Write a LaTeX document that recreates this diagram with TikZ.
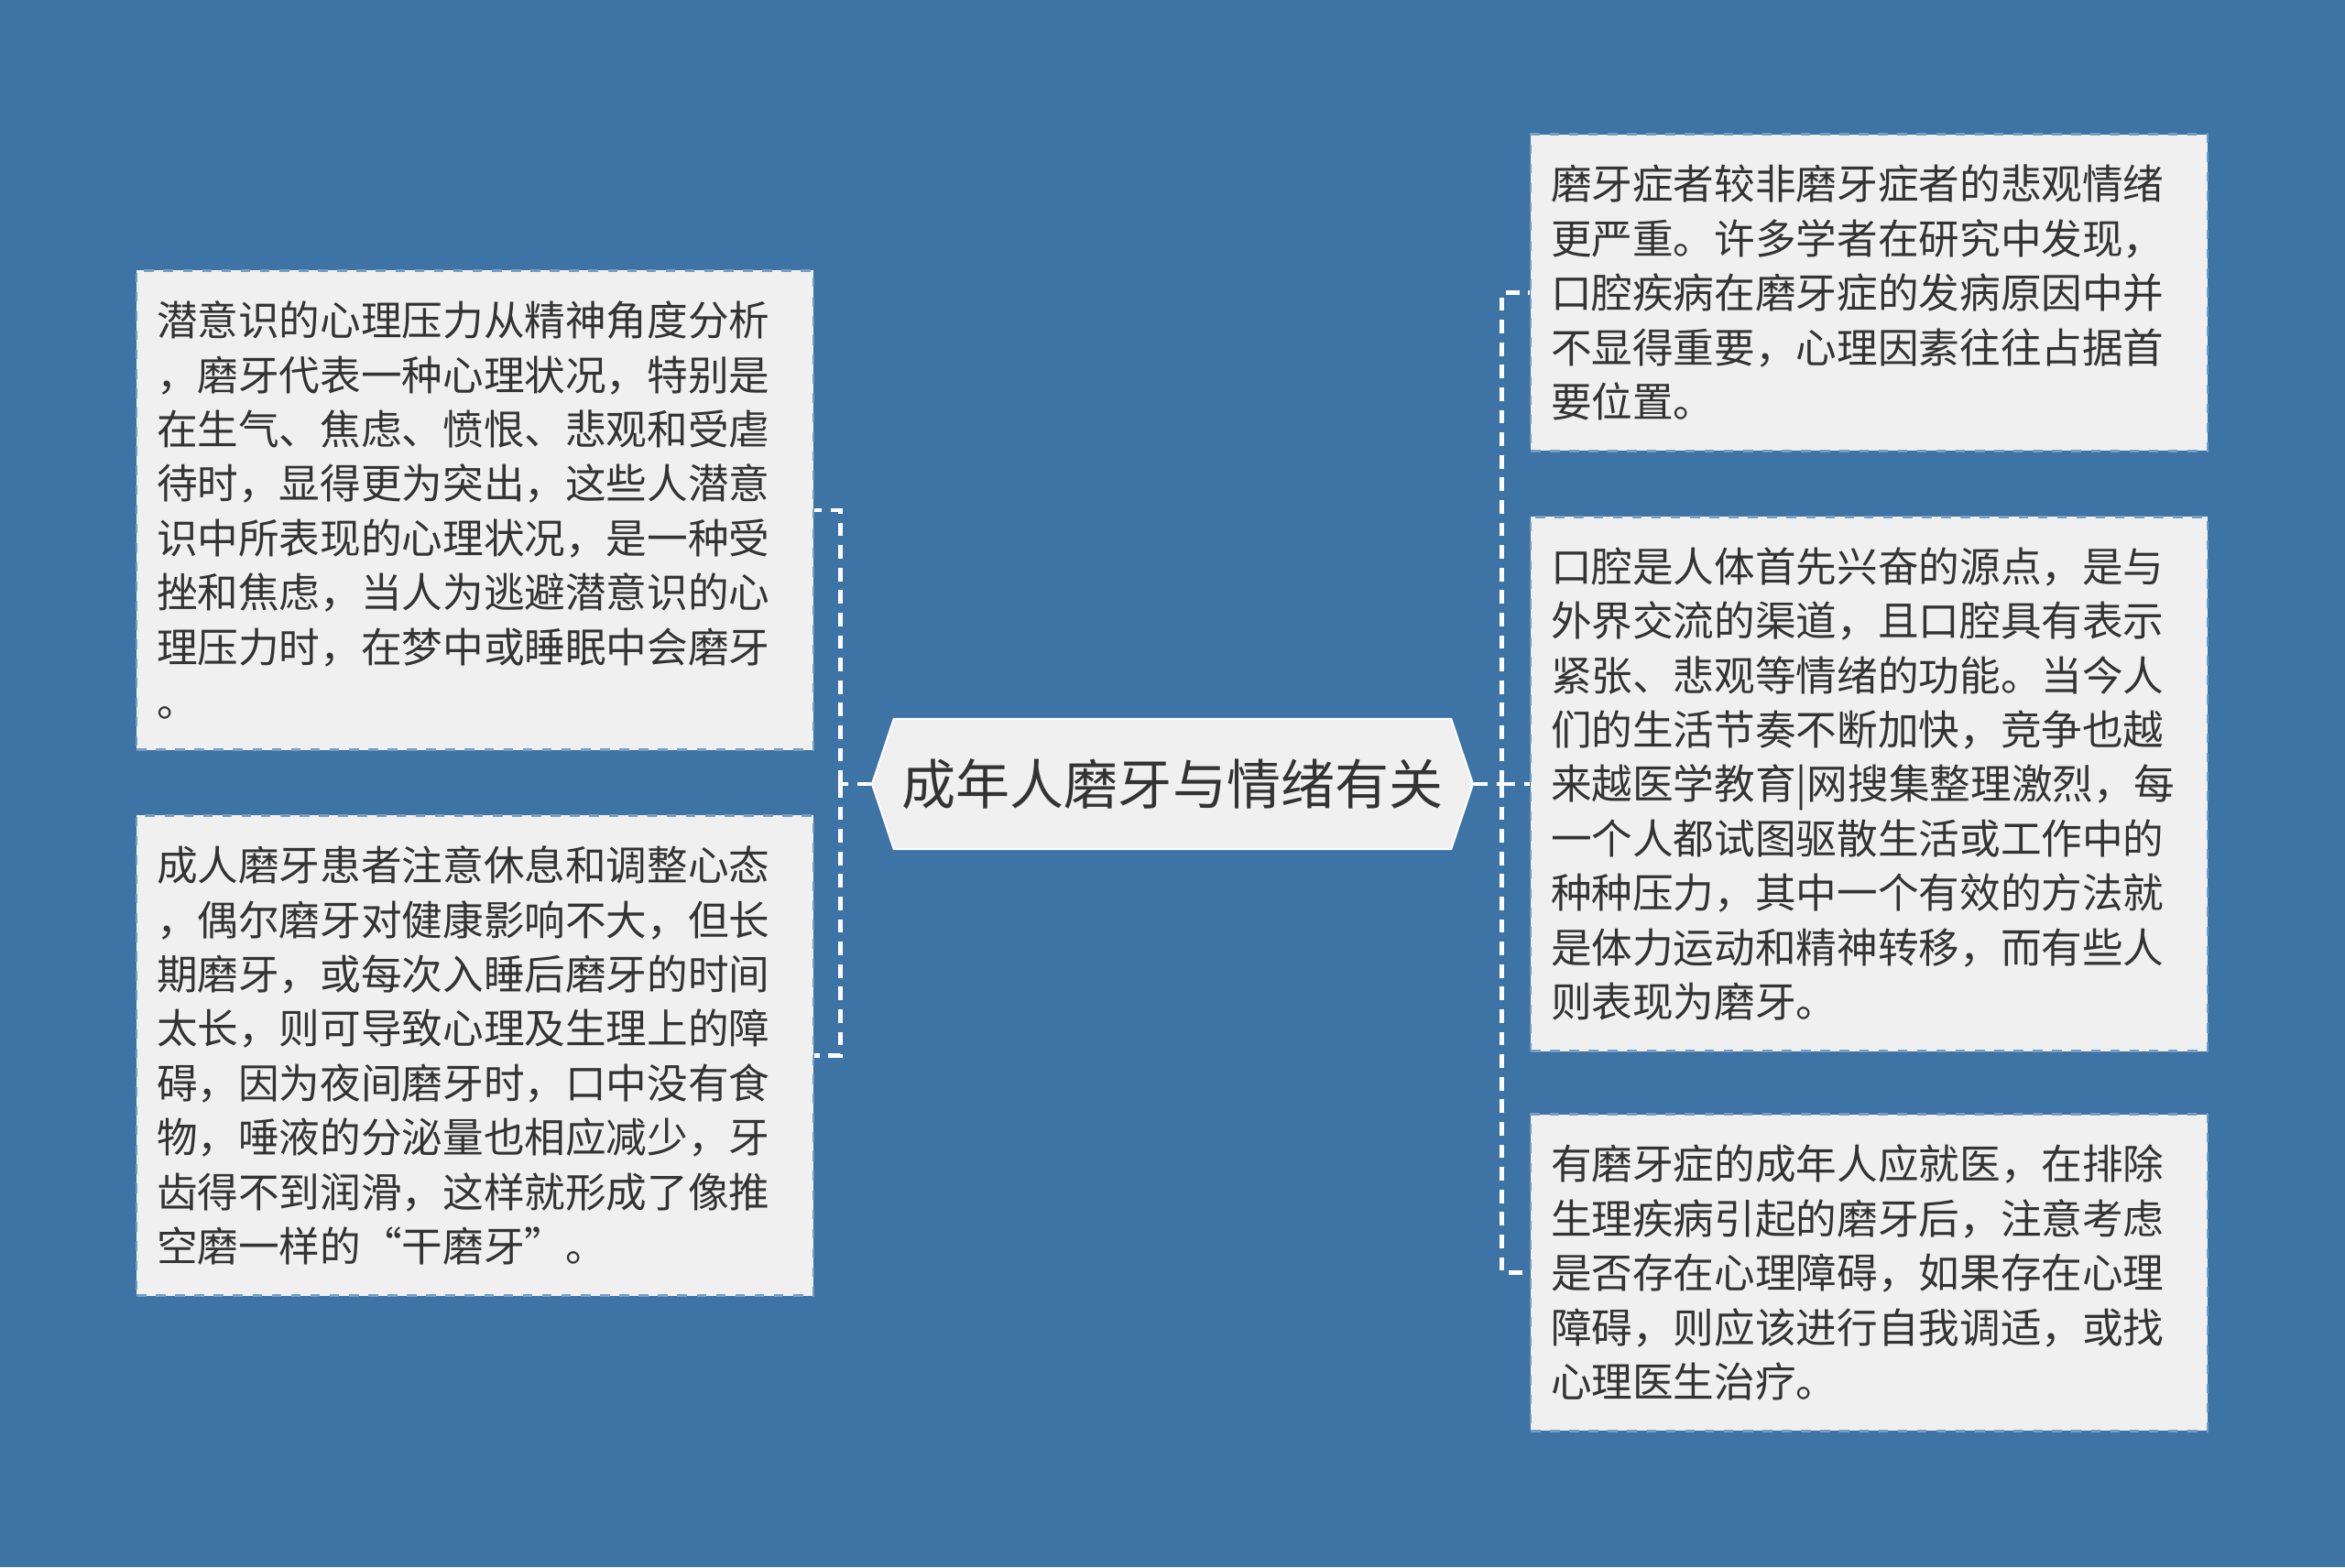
\documentclass[tikz,border=0pt]{standalone}
\usepackage{fontspec}
\setmainfont{Noto Sans CJK SC}
\usetikzlibrary{shapes.symbols, positioning}
\definecolor{bgblue}{RGB}{61,115,165}
\definecolor{boxgray}{RGB}{240,240,240}
\definecolor{txtgray}{RGB}{51,51,51}
\tikzset{
	topic/.style = {
		shape=signal, signal to=west and east, signal pointer angle=143,
		fill=boxgray, draw=white, line width=0.6pt,
		minimum width=6.56cm, minimum height=1.42cm, inner sep=0pt,
		font=\fontsize{16.8pt}{20pt}\selectfont, text=txtgray
	},
	leaf/.style = {
		fill=boxgray, draw=bgblue!70!white, dashed, line width=0.8pt,
		text width=6.95cm, align=left, inner xsep=0.22cm, inner ysep=9.5pt,
		font=\fontsize{12.7pt}{16.9pt}\selectfont, text=txtgray
	},
	link/.style = {draw=white, line width=1.4pt, dash pattern=on 4.2pt off 2.8pt}
}

\begin{document}
\begin{tikzpicture}

	\useasboundingbox (0,0) rectangle (25.6,-17.11);
	\fill [bgblue] (0,0) rectangle (25.6,-17.11);

	\node [topic] (root) at (12.80,-8.56) {成年人磨牙与情绪有关};

	% left side
	\node [leaf] (l1) at (5.185,-5.57) {潜意识的心理压力从精神角度分析\\，磨牙代表一种心理状况，特别是\\在生气、焦虑、愤恨、悲观和受虐\\待时，显得更为突出，这些人潜意\\识中所表现的心理状况，是一种受\\挫和焦虑，当人为逃避潜意识的心\\理压力时，在梦中或睡眠中会磨牙\\。};
	\node [leaf] (l2) at (5.185,-11.525) {成人磨牙患者注意休息和调整心态\\，偶尔磨牙对健康影响不大，但长\\期磨牙，或每次入睡后磨牙的时间\\太长，则可导致心理及生理上的障\\碍，因为夜间磨牙时，口中没有食\\物，唾液的分泌量也相应减少，牙\\齿得不到润滑，这样就形成了像推\\空磨一样的“干磨牙”。};

	% right side
	\node [leaf] (r1) at (20.405,-3.195) {磨牙症者较非磨牙症者的悲观情绪\\更严重。许多学者在研究中发现，\\口腔疾病在磨牙症的发病原因中并\\不显得重要，心理因素往往占据首\\要位置。};
	\node [leaf] (r2) at (20.405,-8.56) {口腔是人体首先兴奋的源点，是与\\外界交流的渠道，且口腔具有表示\\紧张、悲观等情绪的功能。当今人\\们的生活节奏不断加快，竞争也越\\来越医学教育|网搜集整理激烈，每\\一个人都试图驱散生活或工作中的\\种种压力，其中一个有效的方法就\\是体力运动和精神转移，而有些人\\则表现为磨牙。};
	\node [leaf] (r3) at (20.405,-13.895) {有磨牙症的成年人应就医，在排除\\生理疾病引起的磨牙后，注意考虑\\是否存在心理障碍，如果存在心理\\障碍，则应该进行自我调适，或找\\心理医生治疗。};

	\draw [link] (root.west) -- ++(-0.33,0) coordinate (lspine);
	\draw [link] (lspine) |- (l1.east);
	\draw [link] (lspine) |- (l2.east);

	\draw [link] (root.east) -- ++(0.30,0) coordinate (rspine);
	\draw [link] (rspine) |- (r1.west);
	\draw [link] (rspine) -- (r2.west);
	\draw [link] (rspine) |- (r3.west);

\end{tikzpicture}
\end{document}
